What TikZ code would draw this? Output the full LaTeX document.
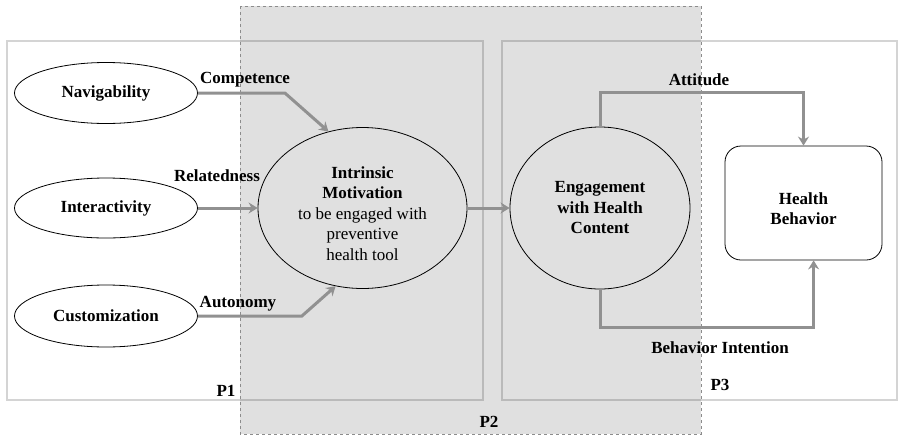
\documentclass[tikz,border=0pt]{standalone}
\usepackage{fontspec}
\setmainfont{Liberation Serif}
\usetikzlibrary{arrows.meta,shapes.geometric}
\begin{document}
\begin{tikzpicture}[x=1pt,y=-1pt,
  every node/.style={font=\fontsize{17}{20.5}\selectfont, align=center},
  ell/.style={draw=black, ellipse, line width=0.8pt, inner sep=0pt},
  lbl/.style={font=\fontsize{17}{20.5}\selectfont\bfseries, inner sep=0pt},
  conn/.style={draw=black!43, line width=3pt, -{Stealth[length=9pt,width=11pt,inset=3pt]}},
  region/.style={draw=black, draw opacity=0.17, line width=2pt}
]
\useasboundingbox (0,0) rectangle (898,437);
% P2 shaded region
\fill[black!12] (240,6) rectangle (701,434);
% P1 and P3 regions
\draw[region] (7,41) rectangle (483,400);
\draw[region] (502,41) rectangle (897,400);
\draw[black!45, dashed, line width=0.7pt] (240,6) rectangle (701,434);

% nodes
\node[ell, fill=white, minimum width=183, minimum height=61] (nav) at (106,93) {\bfseries Navigability};
\node[ell, fill=white, minimum width=183, minimum height=60] (inter) at (106,208) {\bfseries Interactivity};
\node[ell, fill=white, minimum width=183, minimum height=62] (cust) at (106,316) {\bfseries Customization};
\node[ell, minimum width=209, minimum height=161] (intr) at (362.5,208)
  {\rule{0pt}{23pt}\bfseries Intrinsic\\\bfseries Motivation\\to be engaged with\\preventive\\health tool};
\node[ell, minimum width=180, minimum height=162] (eng) at (600,208)
  {\bfseries Engagement\\\bfseries with Health\\\bfseries Content};
\node[draw=black, line width=0.8pt, fill=white, rounded corners=16pt, minimum width=157, minimum height=114] (hb) at (803.5,203)
  {\rule{0pt}{23pt}\bfseries Health\\\bfseries Behavior};

% connectors
\draw[conn] (nav.east) -- ++(87,0) -- (intr.114);
\draw[conn] (inter.east) -- (intr.west);
\draw[conn] (cust.east) -- ++(104,0) -- (intr.-109);
\draw[conn] (intr.east) -- (eng.west);
\draw[conn] (eng.north) -- ++(0,-34) -| (hb.north);
\draw[conn] (eng.south) -- ++(0,38) -| (hb.-80.5);

% labels
\node[lbl] (lcomp) at (245,80) {Competence};
\node[lbl] (lrel) at (217,176) {Relatedness};
\node[lbl] (laut) at (238,304) {Autonomy};
\node[lbl] (latt) at (699,80) {Attitude};
\node[lbl] (lbi) at (720,348) {Behavior Intention};
\node[lbl] (p1) at (226,391) {P1};
\node[lbl] (p2) at (489,422) {P2};
\node[lbl] (p3) at (720,385) {P3};
\end{tikzpicture}
\end{document}
